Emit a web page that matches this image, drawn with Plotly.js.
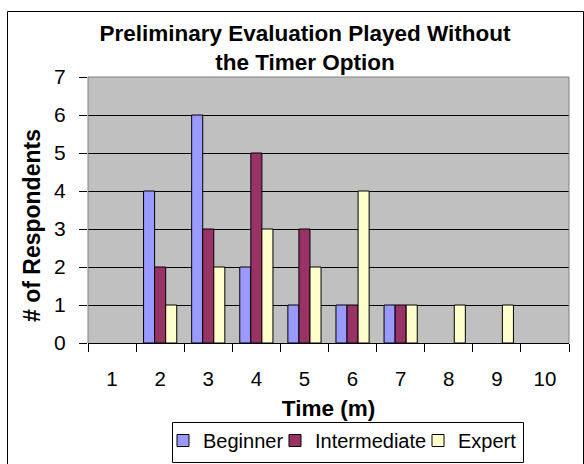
<!DOCTYPE html>
<html>
<head>
<meta charset="utf-8">
<script src="https://cdn.plot.ly/plotly-3.0.1.min.js"></script>
<style>
  html, body { margin: 0; padding: 0; background: #ffffff; }
  #chart { width: 584px; height: 464px; }
</style>
</head>
<body>
<div id="chart"></div>
<script>
const categories = ['1', '2', '3', '4', '5', '6', '7', '8', '9', '10'];
const beginner     = [0, 4, 6, 2, 1, 1, 1, 0, 0, 0];
const intermediate = [0, 2, 3, 5, 3, 1, 1, 0, 0, 0];
const expert       = [0, 1, 2, 3, 2, 4, 1, 1, 1, 0];
const seriesNames = ['Beginner', 'Intermediate', 'Expert'];
const yTicks = [0, 1, 2, 3, 4, 5, 6, 7];

const FONT = 'Arial, "Liberation Sans", Helvetica, sans-serif';

// plot area in pixels
const W = 584, H = 464;
const PL = 88, PR = 569, PT = 77, PB = 343;
const px2x = p => (p - PL) / (PR - PL);
const px2y = p => (PB - p) / (PB - PT);

function bar(name, values, color, legendId) {
  return {
    type: 'bar', name: name, x: categories,
    // a zero-height bar draws nothing, as in the source chart
    y: values.map(v => (v === 0 ? null : v)),
    legend: legendId,
    marker: { color: color, line: { color: '#000000', width: 1 } },
    hoverinfo: 'x+y+name'
  };
}

const data = [
  bar(seriesNames[0], beginner, '#9999FF', 'legend'),
  bar(seriesNames[1], intermediate, '#993366', 'legend2'),
  bar(seriesNames[2], expert, '#FFFFCC', 'legend3')
];

function legendAt(textStartPx) {
  return {
    orientation: 'h',
    x: px2x(textStartPx - 40), xanchor: 'left',
    y: px2y(421), yanchor: 'top',
    bgcolor: 'rgba(0,0,0,0)', borderwidth: 0,
    font: { family: FONT, size: 20, color: '#000000' }
  };
}

const layout = {
  width: W, height: H,
  margin: { l: PL, r: W - PR, t: PT, b: H - PB, pad: 0, autoexpand: false },
  paper_bgcolor: '#ffffff',
  plot_bgcolor: '#C0C0C0',
  font: { family: FONT, color: '#000000', size: 20 },
  barmode: 'group',
  bargap: 0.31,
  bargroupgap: 0,
  showlegend: true,
  title: {
    text: 'Preliminary Evaluation Played Without<br>the Timer Option',
    font: { family: FONT, size: 22.5, weight: 'bold', color: '#000000' },
    xref: 'container', yref: 'container',
    x: 305 / W, xanchor: 'center',
    y: 1 - 41 / H, yanchor: 'middle'
  },
  xaxis: {
    type: 'category',
    categoryorder: 'array', categoryarray: categories,
    automargin: false,
    showgrid: false, zeroline: false,
    showline: true, linecolor: '#000000', linewidth: 1,
    ticks: 'outside', ticklen: 8, tickcolor: '#000000', tickwidth: 1,
    tickson: 'boundaries',
    ticklabelstandoff: 17,
    tickfont: { family: FONT, size: 20.5, color: '#000000' },
    title: { text: 'Time (m)', font: { family: FONT, size: 22.5, weight: 'bold', color: '#000000' }, standoff: 11 },
    fixedrange: true
  },
  yaxis: {
    range: [0, 7], tickmode: 'array', tickvals: yTicks, ticktext: yTicks.map(String),
    automargin: false,
    showgrid: true, gridcolor: '#000000', gridwidth: 1,
    zeroline: true, zerolinecolor: '#000000', zerolinewidth: 1,
    showline: false,
    ticks: 'outside', ticklen: 8, tickcolor: '#000000', tickwidth: 1,
    ticklabelstandoff: 9,
    tickfont: { family: FONT, size: 21, color: '#000000' },
    fixedrange: true
  },
  legend: legendAt(203),
  legend2: legendAt(315),
  legend3: legendAt(458),
  annotations: [{
    text: '# of Respondents',
    textangle: -90,
    xref: 'paper', yref: 'paper',
    x: px2x(32), y: px2y(226),
    xanchor: 'center', yanchor: 'middle',
    showarrow: false,
    font: { family: FONT, size: 23, weight: 'bold', color: '#000000' }
  }],
  shapes: [
    // outer chart frame
    { type: 'rect', xref: 'paper', yref: 'paper',
      x0: px2x(7.5), x1: px2x(583.5), y0: px2y(475), y1: px2y(11.5),
      line: { color: '#000000', width: 1 }, fillcolor: 'rgba(0,0,0,0)', layer: 'below' },
    // plot border (gray) top/left/right
    { type: 'path', xref: 'paper', yref: 'paper',
      path: 'M0,0 L0,1 L1,1 L1,0',
      line: { color: '#808080', width: 1 }, layer: 'above' },
    // legend box
    { type: 'rect', xref: 'paper', yref: 'paper',
      x0: px2x(172.5), x1: px2x(523.5), y0: px2y(462.5), y1: px2y(422.5),
      line: { color: '#000000', width: 1 }, fillcolor: 'rgba(0,0,0,0)', layer: 'above' }
  ]
};

Plotly.newPlot('chart', data, layout, { displayModeBar: false, staticPlot: true });
</script>
</body>
</html>
